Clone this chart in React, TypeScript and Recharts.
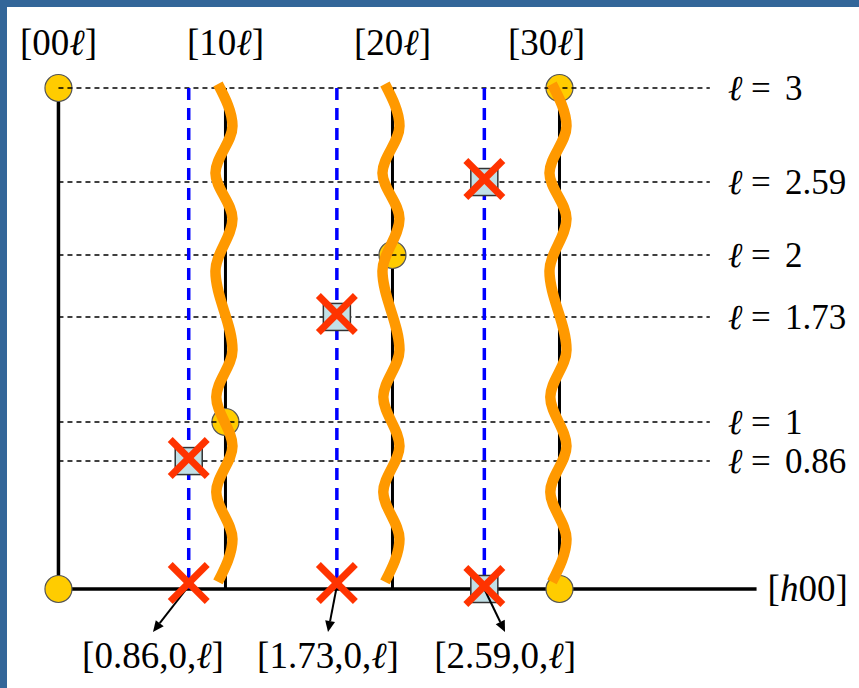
import React from 'react'
import { ComposedChart, XAxis, YAxis, Scatter, Line, ReferenceLine } from 'recharts'

const FONT = 'Liberation Serif, Times New Roman, serif'
const txt = { fontFamily: FONT, fill: '#000' }

// columns of the reciprocal lattice, [h0l]
const columnH = [0, 1, 2, 3]
const columnLabels = ['00', '10', '20', '30']
const lTop = 3
const hAxisEnd = 4.18
const levelEnd = 3.9

// horizontal guides: where they are drawn, and what they say
const levelL = [3, 2.437, 2, 1.629, 1, 0.766]
const levelLabels = ['3', '2.59', '2', '1.73', '1', '0.86']

// incommensurate rods (blue dashed) and their index labels
const rodH = [0.78, 1.667, 2.55]
const rodLabels = ['0.86', '1.73', '2.59']
const arrowFromL = [0.018, 0.018, 0]
const arrowTipH = [0.566, 1.614, 2.674]
const arrowTipL = -0.257

// Bragg peaks (yellow)
const braggH = [0, 0, 1, 2, 3, 3]
const braggL = [0, 3, 1, 2, 3, 0]

// satellite peaks
const squareH = [0.78, 1.667, 2.55, 2.55]
const squareL = [0.766, 1.629, 2.437, 0]
const crossH = [0.78, 1.667, 2.55, 0.78, 1.667, 2.55]
const crossL = [0.766, 1.629, 2.437, 0.018, 0.018, 0]

// diffuse streaks: turning points, offset from the column
const waveH = [1, 2, 3]
const waveL = [3.024, 2.772, 2.491, 2.217, 1.904, 1.431, 1.15, 0.856, 0.581, 0.299, 0.042]
const waveDh = [-0.045, 0.042, -0.06, 0.042, -0.06, 0.042, -0.055, 0.042, -0.055, 0.042, -0.045]

const pts = (hs: number[], ls: number[]) => hs.map((h, i) => ({ h, l: ls[i] }))
const braggData = pts(braggH, braggL)
const squareData = pts(squareH, squareL)
const crossData = pts(crossH, crossL)
const waveData = (h0: number) => waveL.map((l, i) => ({ h: h0 + waveDh[i], l }))

const Ell = () => <tspan fontStyle="italic">ℓ</tspan>

function ColumnTick(props: any) {
  const { x, y, index } = props
  const shift = index === 3 ? -13 : 0
  return (
    <text x={x + shift} y={y} textAnchor="middle" fontSize={37} style={txt}>
      [{columnLabels[index]}
      <Ell />]
    </text>
  )
}

function LevelTick(props: any) {
  const { x, y, index } = props
  return (
    <text x={x} y={y + 12} fontSize={35} style={txt}>
      <tspan fontStyle="italic">ℓ</tspan>
      <tspan x={x + 23}>=</tspan>
      <tspan x={x + 57}>{levelLabels[index]}</tspan>
    </text>
  )
}

const Bragg = (p: any) => (
  <circle cx={p.cx} cy={p.cy} r={13.5} fill="#FFCC00" stroke="#555" strokeWidth={1.2} />
)

const Square = (p: any) => (
  <rect x={p.cx - 13.5} y={p.cy - 13.5} width={27} height={27} fill="#C2E0E6" stroke="#333" strokeWidth={1.5} />
)

const Cross = (p: any) => {
  const c = p.cy - 3
  const s = 18.5
  return (
    <g stroke="#FF3300" strokeWidth={7}>
      <line x1={p.cx - s} y1={c - s} x2={p.cx + s} y2={c + s} />
      <line x1={p.cx - s} y1={c + s} x2={p.cx + s} y2={c - s} />
    </g>
  )
}

const arrowShape = (label: string) => (p: any) => {
  const { x1, y1, x2, y2 } = p
  const len = Math.hypot(x2 - x1, y2 - y1)
  const ux = (x2 - x1) / len
  const uy = (y2 - y1) / len
  const head = 11
  const half = 5
  const bx = x2 - ux * head
  const by = y2 - uy * head
  return (
    <g>
      <line x1={x1} y1={y1} x2={bx} y2={by} stroke="#000" strokeWidth={2} />
      <polygon
        points={`${x2},${y2} ${bx - uy * half},${by + ux * half} ${bx + uy * half},${by - ux * half}`}
        fill="#000"
      />
      <text x={x2} y={y2 + 36} textAnchor="middle" fontSize={37} style={txt}>
        [{label},0,
        <Ell />]
      </text>
    </g>
  )
}

const hAxisShape = (p: any) => (
  <g>
    <line x1={p.x1} y1={p.y1} x2={p.x2} y2={p.y2} stroke="#000" strokeWidth={3.5} />
    <text x={p.x2 + 11} y={p.y2 + 12} fontSize={37} style={txt}>
      [<tspan fontStyle="italic">h</tspan>00]
    </text>
  </g>
)

export default function App() {
  return (
    <div style={{ position: 'fixed', left: 0, top: 0, width: 859, height: 688, background: '#fff' }}>
      <ComposedChart width={859} height={688} margin={{ top: 31.3, right: 9.2, bottom: 15.5, left: 0 }}>
        <XAxis
          dataKey="h"
          type="number"
          orientation="top"
          domain={[-0.35, levelEnd]}
          allowDataOverflow
          ticks={columnH}
          interval={0}
          height={40}
          tickSize={0}
          tickMargin={16.3}
          axisLine={false}
          tickLine={false}
          tick={<ColumnTick />}
        />
        <YAxis
          type="number"
          orientation="right"
          domain={[-0.5, 3.1]}
          allowDataOverflow
          ticks={levelL}
          interval={0}
          width={140}
          tickSize={0}
          tickMargin={18.25}
          axisLine={false}
          tickLine={false}
          tick={<LevelTick />}
        />

        {/* lattice columns */}
        {columnH.map((h) => (
          <ReferenceLine
            key={`col-${h}`}
            segment={[{ x: h, y: 0 }, { x: h, y: lTop }]}
            stroke="#000"
            strokeWidth={h === 0 ? 3.5 : 3}
            ifOverflow="visible"
            zIndex={100}
          />
        ))}
        <ReferenceLine
          segment={[{ x: 0, y: 0 }, { x: hAxisEnd, y: 0 }]}
          shape={hAxisShape}
          ifOverflow="visible"
          zIndex={100}
        />

        <Scatter data={braggData} dataKey="l" shape={Bragg} isAnimationActive={false} zIndex={200} />

        {levelL.map((l) => (
          <ReferenceLine
            key={`lvl-${l}`}
            segment={[{ x: 0, y: l }, { x: levelEnd, y: l }]}
            stroke="#000"
            strokeWidth={1.5}
            strokeDasharray="5 4"
            ifOverflow="visible"
            zIndex={300}
          />
        ))}

        {rodH.map((h) => (
          <ReferenceLine
            key={`rod-${h}`}
            segment={[{ x: h, y: lTop }, { x: h, y: 0 }]}
            stroke="#0000FF"
            strokeWidth={3.5}
            strokeDasharray="12 8"
            ifOverflow="visible"
            zIndex={350}
          />
        ))}

        <Scatter data={squareData} dataKey="l" shape={Square} isAnimationActive={false} zIndex={400} />

        {waveH.map((h) => (
          <Line
            key={`wave-${h}`}
            data={waveData(h)}
            dataKey="l"
            type="monotoneY"
            stroke="#FF9900"
            strokeWidth={10.5}
            dot={false}
            activeDot={false}
            isAnimationActive={false}
            zIndex={500}
          />
        ))}

        {rodH.map((h, i) => (
          <ReferenceLine
            key={`arrow-${h}`}
            segment={[{ x: h, y: arrowFromL[i] }, { x: arrowTipH[i], y: arrowTipL }]}
            shape={arrowShape(rodLabels[i])}
            ifOverflow="visible"
            zIndex={550}
          />
        ))}

        <Scatter data={crossData} dataKey="l" shape={Cross} isAnimationActive={false} zIndex={600} />
      </ComposedChart>
      <div style={{ position: 'absolute', left: 0, top: 0, width: 859, height: 7, background: '#336699' }} />
      <div style={{ position: 'absolute', left: 0, top: 0, width: 7, height: 688, background: '#336699' }} />
    </div>
  )
}
